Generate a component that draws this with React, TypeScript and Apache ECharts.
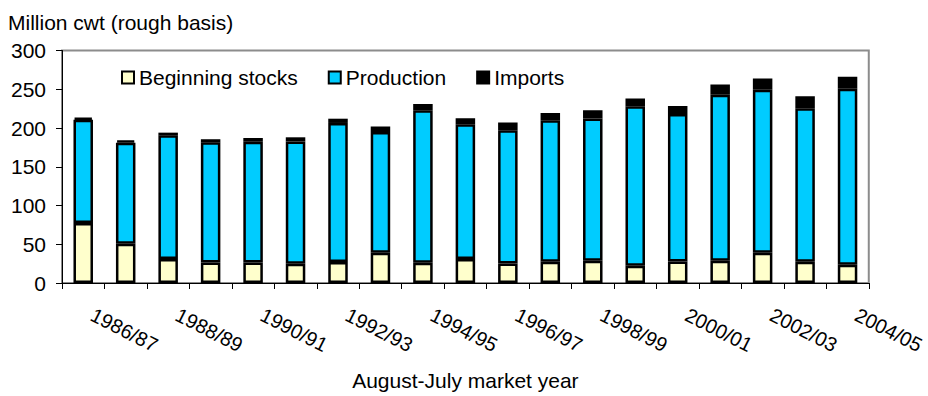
import React, { useEffect, useRef } from "react";
import * as echarts from "echarts";

const categories = [
  "1986/87", "1987/88", "1988/89", "1989/90", "1990/91", "1991/92", "1992/93",
  "1993/94", "1994/95", "1995/96", "1996/97", "1997/98", "1998/99", "1999/00",
  "2000/01", "2001/02", "2002/03", "2003/04", "2004/05",
];
const beginningStocks = [77.3, 50.8, 31.0, 26.4, 26.4, 24.8, 27.0, 39.0, 26.0, 31.0, 25.2, 27.3, 28.6, 22.2, 27.7, 28.6, 39.1, 27.3, 23.5];
const production = [133.2, 130.2, 159.5, 155.1, 155.9, 157.8, 179.5, 156.0, 197.0, 173.9, 171.8, 182.6, 183.8, 205.8, 190.3, 214.4, 210.2, 198.2, 227.0];
const imports = [2.8, 3.0, 3.5, 4.0, 4.7, 5.4, 5.5, 7.0, 8.0, 7.6, 10.0, 9.3, 10.6, 10.0, 10.5, 13.0, 14.7, 15.5, 15.5];
const yTicks = [0, 50, 100, 150, 200, 250, 300];

const FONT = "'Liberation Sans', Arial, sans-serif";

export default function App() {
  const ref = useRef<HTMLDivElement>(null);
  useEffect(() => {
    if (!ref.current) return;
    const chart = echarts.init(ref.current, null, { renderer: "svg" });
    const barStyle = (color: string) => ({ color, borderColor: "#000", borderWidth: 2.5 });
    chart.setOption({
      animation: false,
      backgroundColor: "#fff",
      textStyle: { fontFamily: FONT, color: "#000" },
      title: {
        text: "Million cwt (rough basis)",
        left: 3,
        top: 7,
        textStyle: { fontFamily: FONT, fontSize: 21, fontWeight: "normal", color: "#000" },
      },
      legend: {
        left: 116,
        top: 62,
        itemWidth: 12,
        itemHeight: 12,
        itemGap: 30,
        icon: "rect",
        textStyle: { fontFamily: FONT, fontSize: 21, color: "#000" },
        data: ["Beginning stocks", "Production", "Imports"],
      },
      grid: {
        left: 62,
        right: 56,
        top: 50.5,
        bottom: 109.5,
        show: true,
        borderColor: "#8c8c8c",
        borderWidth: 2,
        containLabel: false,
      },
      xAxis: {
        type: "category",
        data: categories,
        boundaryGap: true,
        name: "August-July market year",
        nameLocation: "middle",
        nameGap: 87,
        nameTextStyle: { fontFamily: FONT, fontSize: 21, color: "#000" },
        axisLine: { lineStyle: { color: "#000", width: 1 } },
        axisTick: { show: true, interval: 0, length: 6, lineStyle: { color: "#000" } },
        axisLabel: {
          interval: 1,
          rotate: -27,
          margin: 26,
          padding: [0, 0, 0, 10],
          fontFamily: FONT,
          fontSize: 20,
          color: "#000",
        },
        splitLine: { show: false },
      },
      yAxis: {
        type: "value",
        min: 0,
        max: 300,
        interval: 50,
        axisLine: { show: true, lineStyle: { color: "#000", width: 1 } },
        axisTick: { show: true, length: 6, lineStyle: { color: "#000" } },
        axisLabel: {
          margin: 16,
          fontFamily: FONT,
          fontSize: 21,
          color: "#000",
          formatter: (v: number) => (yTicks.includes(v) ? String(v) : ""),
        },
        splitLine: { show: false },
      },
      series: [
        { name: "Beginning stocks", type: "bar", stack: "total", barWidth: 19.5, data: beginningStocks, itemStyle: barStyle("#FFFFCC") },
        { name: "Production", type: "bar", stack: "total", barWidth: 19.5, data: production, itemStyle: barStyle("#00CCFF") },
        { name: "Imports", type: "bar", stack: "total", barWidth: 19.5, data: imports, itemStyle: barStyle("#000000") },
      ],
    });
    return () => chart.dispose();
  }, []);
  return (
    <div
      ref={ref}
      style={{ position: "fixed", left: 0, top: 0, width: 928, height: 396, background: "#fff" }}
    />
  );
}
